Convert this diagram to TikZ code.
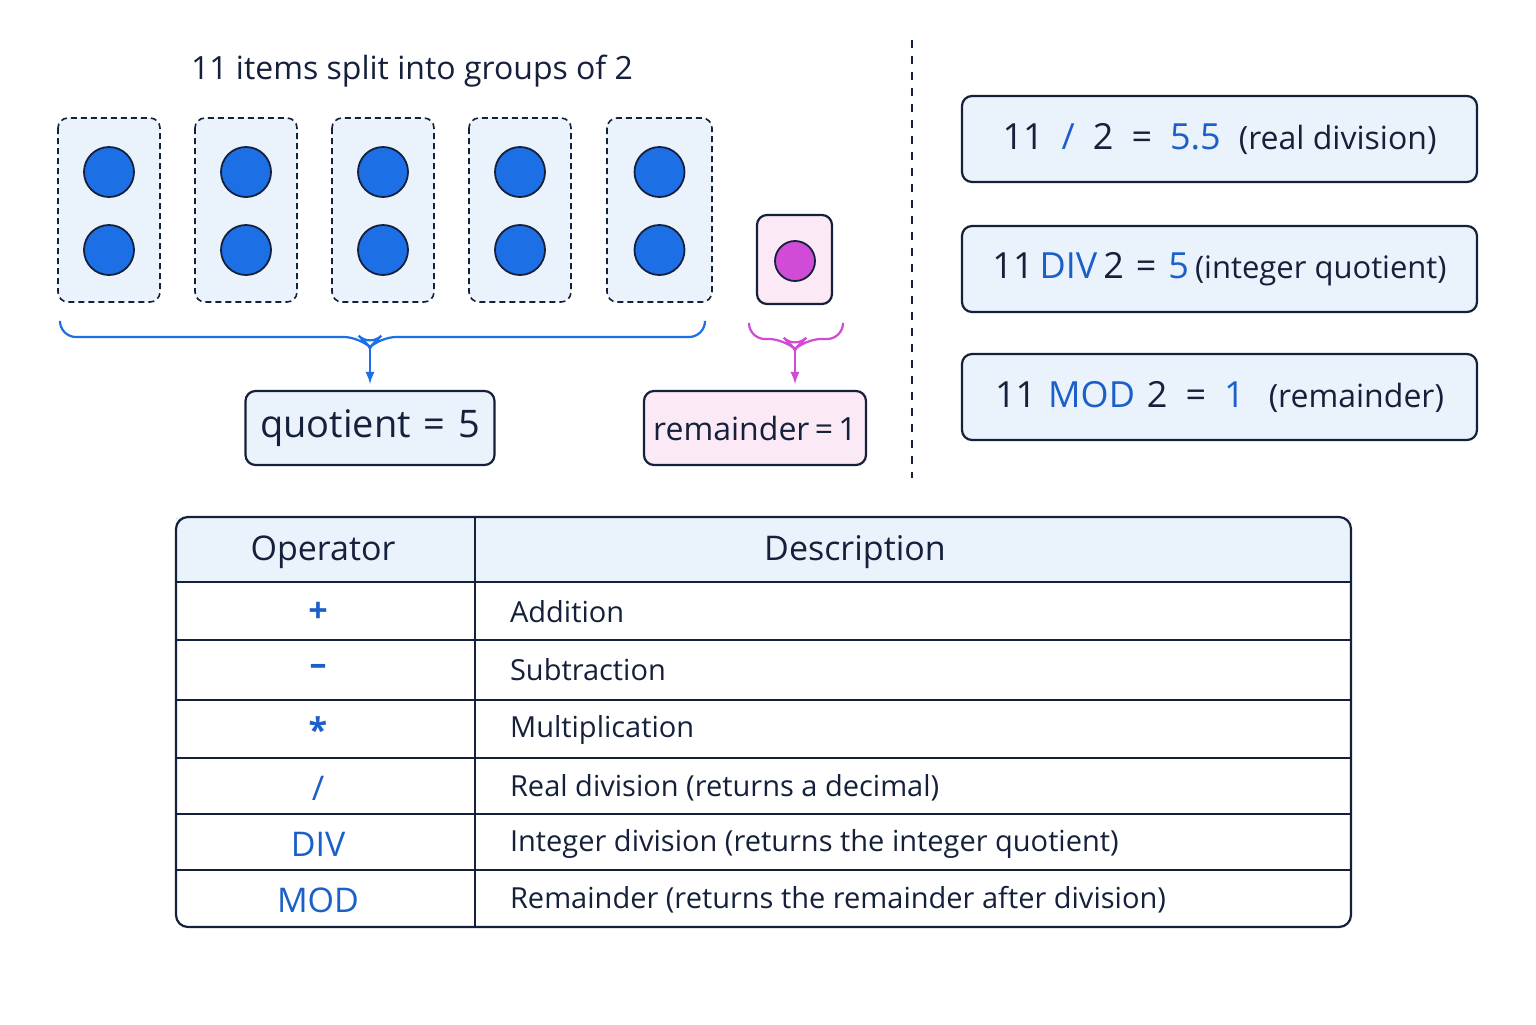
\documentclass[tikz,border=0pt]{standalone}
\usepackage{fontspec}
\setmainfont{Open Sans}
\definecolor{navy}{HTML}{15203A}
\definecolor{lb}{HTML}{EAF3FC}
\definecolor{dot}{HTML}{1D6FE6}
\definecolor{bt}{HTML}{1B5FC9}
\definecolor{pk}{HTML}{FCE9F6}
\definecolor{mag}{HTML}{D04CD6}
\begin{document}
\begin{tikzpicture}[x=0.5pt,y=-0.5pt,
 grp/.style={draw=navy,dash pattern=on 3pt off 2pt,line width=0.8pt,fill=lb,rounded corners=5pt},
 ball/.style={circle,draw=navy,line width=0.9pt,fill=dot,minimum size=25pt,inner sep=0},
 rbox/.style={draw=navy,line width=1.1pt,rounded corners=5pt},
 txt/.style={font=\fontsize{17}{20}\selectfont,text=navy},
 bl/.style={text=bt}]
\useasboundingbox (0,0) rectangle (1536,1024);
\fill[white] (0,0) rectangle (1536,1024);
\node[txt,font=\fontsize{16}{19}\selectfont] (title) at (412,71) {11 items split into groups of 2};
\foreach \a/\b/\n in {58/160/1,195/297/2,332/434/3,469/571/4,607/712/5}{
 \draw[grp] (\a,118) rectangle (\b,302);
 \node[ball] (u\n) at ({(\a+\b)/2},172) {};
 \node[ball] (d\n) at ({(\a+\b)/2},250) {};
}
\draw[rbox,fill=pk] (757,215) rectangle (832,304);
\node[circle,draw=navy,line width=0.9pt,fill=mag,minimum size=20pt,inner sep=0] (r) at (795,261) {};
% braces
\draw[dot,line width=1.1pt,rounded corners=8pt] (60,323) -- (60,337) -- (360,337) -- (370,347) -- (380,337) -- (705,337) -- (705,323);
\draw[mag,line width=1.1pt,rounded corners=8pt] (749,325) -- (749,339) -- (785,339) -- (795,349) -- (805,339) -- (843,339) -- (843,325);
\node[rbox,fill=lb,minimum width=124.5pt,minimum height=37pt,txt,font=\fontsize{19}{22}\selectfont] (q) at (370,428) {quotient\,\,=\,\,5};
\node[rbox,fill=pk,minimum width=111pt,minimum height=37pt,txt,font=\fontsize{16}{19}\selectfont] (rem) at (755,428) {remainder\,=\,1};
\coordinate (qa) at (370,345); \coordinate (ra) at (795,347);
\coordinate (qt) at (370,384); \coordinate (rt) at (795,384);
\draw[dot,line width=1.1pt,-latex] (qa) -- (qt);
\draw[mag,line width=1.1pt,-latex] (ra) -- (rt);
\draw[navy,dash pattern=on 4pt off 4pt,line width=0.9pt] (912,40) -- (912,478);
\foreach \y/\t in {139/{11\,\,\,{\color{bt}/}\,\,\,2\,\,\,=\,\,\,{\color{bt}5.5}\,\,\,{\fontsize{16}{18}\selectfont(real division)}},
 269/{11\,{\color{bt}DIV}\,2\,\,=\,\,{\color{bt}5}\,{\fontsize{15.5}{18}\selectfont(integer quotient)}},
 397/{11\,\,{\color{bt}MOD}\,\,2\,\,\,=\,\,\,{\color{bt}1}\,\,\,\,{\fontsize{16}{18}\selectfont(remainder)}}}{
 \node[rbox,fill=lb,minimum width=257.5pt,minimum height=43pt,txt,font=\fontsize{18}{21}\selectfont] at (1219.5,\y) {\t};
}
% table
\fill[lb] (176,517) rectangle (1351,582);
\draw[navy,line width=1.1pt,rounded corners=6pt] (176,517) rectangle (1351,927);
\foreach \y in {582,640,700,758,814,870} \draw[navy,line width=1.1pt] (176,\y) -- (1351,\y);
\draw[navy,line width=1.1pt] (475,517) -- (475,927);
\node[txt] at (323,552) {Operator};
\node[txt] at (855,552) {Description};
\foreach \y/\o/\d in {612/{\textbf{+}}/Addition,670/{\textbf{\textendash}}/Subtraction,730/{\textbf{*}}/Multiplication,788/{/}/Real division (returns a decimal),844/DIV/Integer division (returns the integer quotient),900/MOD/Remainder (returns the remainder after division)}{
 \node[txt,bl,font=\fontsize{17}{20}\selectfont] at (318,\y) {\o};
 \node[txt,anchor=west,font=\fontsize{14.5}{18}\selectfont] at (503,\y) {\d};
}
\end{tikzpicture}
\end{document}
